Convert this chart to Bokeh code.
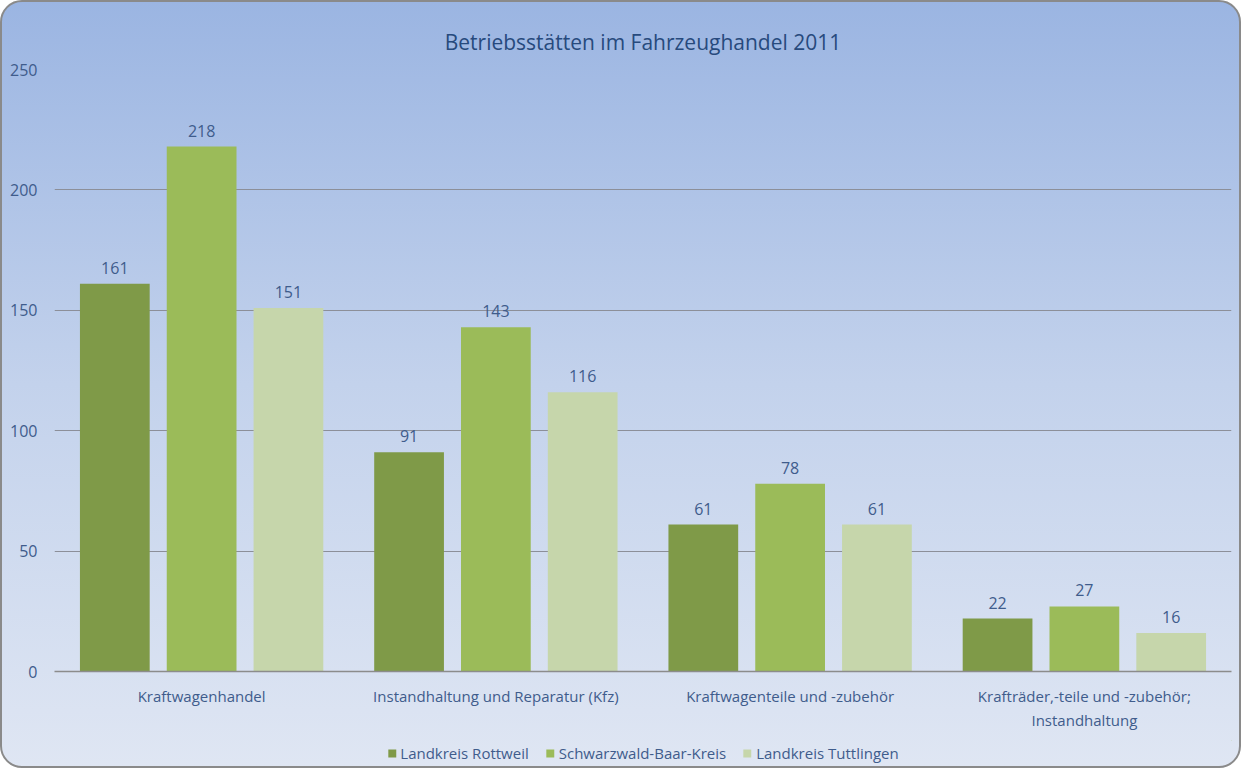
from bokeh.plotting import figure
from bokeh.layouts import column
from bokeh.models import ColumnDataSource, FixedTicker, Legend, LegendItem, LabelSet, Title
from bokeh.core.properties import value
from bokeh.transform import dodge
from bokeh.embed import file_html
from bokeh.resources import INLINE

categories = ["Kraftwagenhandel", "Instandhaltung und Reparatur (Kfz)",
              "Kraftwagenteile und -zubehör", "Krafträder,-teile und -zubehör;\nInstandhaltung"]
series_names = ["Landkreis Rottweil", "Schwarzwald-Baar-Kreis", "Landkreis Tuttlingen"]
rottweil = [161, 91, 61, 22]
sbk = [218, 143, 78, 27]
tuttlingen = [151, 116, 61, 16]
y_ticks = [0, 50, 100, 150, 200, 250]

colors = ["#7F9A48", "#9BBB59", "#C6D6AB"]
text_color = "#3F5C8C"
FONT = "Open Sans"

xs = [i + 0.5 for i in range(len(categories))]

W = 1237
p = figure(width=W, height=738, x_range=(0, 4), y_range=(0, 250),
           output_backend="svg", toolbar_location=None,
           min_border_left=52, min_border_right=8, min_border_top=67, min_border_bottom=69)
p.border_fill_color = None
p.background_fill_color = None
p.outline_line_color = None

title = Title(text="Betriebsstätten im Fahrzeughandel 2011", align="center",
              text_font=FONT, text_font_size="21px", text_color="#274A7D",
              text_font_style="normal", offset=0, standoff=28)
p.add_layout(title, "above")

offsets = [-0.295, 0.0, 0.295]
for vals, col, off in zip([rottweil, sbk, tuttlingen], colors, offsets):
    src = ColumnDataSource(dict(x=xs, y=vals, lab=[str(v) for v in vals]))
    p.vbar(x=dodge("x", off, range=p.x_range), top="y", width=0.237, source=src,
           fill_color=col, line_color=None)
    ls = LabelSet(x=dodge("x", off, range=p.x_range), y="y", text="lab", source=src,
                  text_align="center", text_baseline="bottom", y_offset=10,
                  text_font=value(FONT), text_font_size=value("16px"), text_color=text_color)
    p.add_layout(ls)

# axes
p.yaxis.ticker = FixedTicker(ticks=y_ticks)
p.yaxis.axis_line_color = None
p.yaxis.major_tick_line_color = None
p.yaxis.minor_tick_line_color = None
p.yaxis.major_label_standoff = 11
p.yaxis.major_label_text_font = FONT
p.yaxis.major_label_text_font_size = "16px"
p.yaxis.major_label_text_color = text_color

p.xaxis.ticker = FixedTicker(ticks=xs)
p.xaxis.major_label_overrides = {x: c for x, c in zip(xs, categories)}
p.xaxis.axis_line_color = "#8C8C8C"
p.xaxis.axis_line_width = 1.5
p.xaxis.major_tick_line_color = None
p.xaxis.minor_tick_line_color = None
p.xaxis.major_label_standoff = 8
p.xaxis.major_label_text_font = FONT
p.xaxis.major_label_text_font_size = "15px"
p.xaxis.major_label_text_color = text_color

p.xgrid.grid_line_color = None
p.ygrid.ticker = FixedTicker(ticks=y_ticks[1:])
p.ygrid.grid_line_color = "#8C8F99"
p.ygrid.grid_line_width = 1.2

# legend strip
pl = figure(width=W, height=26, output_backend="svg", toolbar_location=None,
            x_range=(0, 1), y_range=(0, 1),
            min_border=0, min_border_left=0, min_border_right=0, min_border_top=0, min_border_bottom=0)
pl.border_fill_color = None
pl.background_fill_color = None
pl.outline_line_color = None
pl.axis.visible = False
pl.grid.grid_line_color = None
leg_renderers = []
for c in colors:
    s = ColumnDataSource(dict(x=[5.0], top=[5.0]))
    leg_renderers.append(pl.vbar(x="x", top="top", bottom=4.0, width=0.1, source=s,
                                 fill_color=c, line_color=None))
legend = Legend(items=[LegendItem(label=n, renderers=[r]) for n, r in zip(series_names, leg_renderers)],
                orientation="horizontal", location="center",
                label_text_font=FONT, label_text_font_size="15px", label_text_color=text_color,
                glyph_width=10, glyph_height=10, label_standoff=4, spacing=16,
                background_fill_alpha=0, border_line_color=None, margin=0, padding=2)
pl.add_layout(legend, "center")

layout = column(p, pl, spacing=0)
layout.styles = {"background": "linear-gradient(to bottom, #9BB5E2 0%, #C3D2EC 50%, #DFE6F3 100%)",
                 "border": "2px solid #8A8A8A", "border-radius": "22px"}

open("out.html", "w").write(file_html(layout, INLINE))
